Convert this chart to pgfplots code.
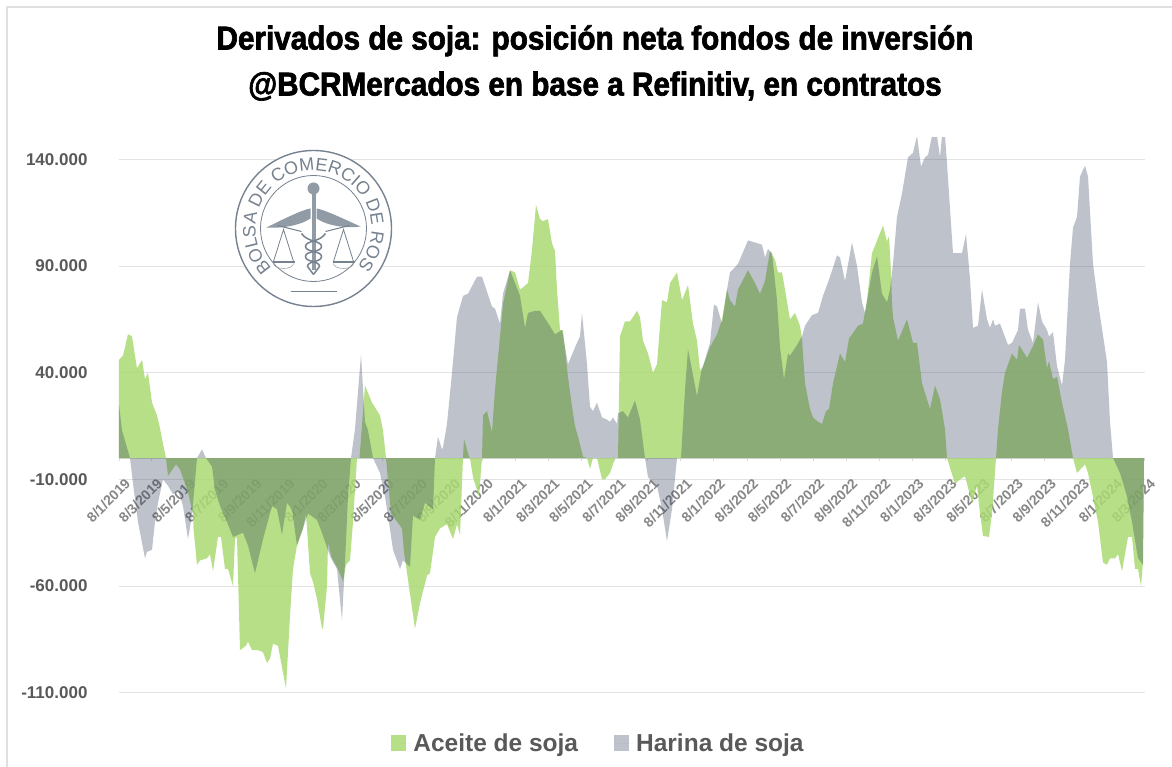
\documentclass[border=0pt]{standalone}
\usepackage{pgfplots}
\usepackage{fontspec}
\pgfplotsset{compat=1.18}
\usetikzlibrary{decorations.text}
\setmainfont{Liberation Sans}
\newfontfamily\titlefont[FakeStretch=0.9,FakeBold=2]{Liberation Sans Bold}
\definecolor{greenfill}{HTML}{AADA74}
\definecolor{grayfill}{HTML}{2A3752}
\definecolor{txt}{HTML}{595959}
\definecolor{logoc}{HTML}{76828F}
\pgfplotstableread{
px v
119 0
119 46000
123 48000
128 58000
132 57000
135 48000
137 42000
142 46000
145 37000
148 40000
152 26000
157 20000
160 14000
162 9000
166 0
168 -8400
176 -3000
180 -5300
188 -16000
193 -26000
193.5 -33000
197 -50000
200 -48000
207 -47000
210 -45000
213 -53000
218 -37000
221 -37000
225 -52000
228 -52000
233 -60000
235 -38000
237 -37000
240 -90000
246 -88000
248 -86000
252 -90000
258 -90000
263 -91000
267 -96000
270 -94000
273 -87000
278 -88000
286 -108000
290 -74000
293 -52000
297 -41000
303 -33000
306 -26000
310 -54000
313 -58000
317 -66000
322 -80000
323 -80000
327 -60000
328 -40000
332 -47000
338 -52000
343 -58000
346 -50000
350 -48000
353 -30000
357 0
359.5 0
365 34000
372 26000
380 20000
383 13000
386 0
391 -26000
402 -33000
404 -44000
415 -80000
420 -68000
427 -55000
430 -54000
435 -37000
440 -33000
447 -31000
453 -38000
457 -31000
460 -36000
463 0
464 9000
469 600
470 0
473 -9000
479 -18000
482 0
483 20000
487 22000
492 12000
495 32000
503 72000
510 88000
515 87000
520 79000
523 80000
528 82000
532 97500
536 118600
540 112000
543 111000
548 112000
552 100600
555 97000
557 79000
560 60000
563 60000
568 38000
572 24000
575 15000
578 10000
583 600
587 0
590 -5000
593 0
597 0
602 -10000
605 -10000
610 -7000
615 0
618 0
620 57000
625 64000
630 64000
637 69000
640 66000
643 55000
648 49000
653 40000
657 44000
662 74000
667 73000
670 82000
677 87000
682 74000
688 81000
693 63000
697 55000
700 41000
703 43000
710 52000
717 58000
722 65000
727 79000
730 74000
735 71000
738 79000
748 88000
755 82000
760 77000
765 83000
770 97000
775 93000
778 87000
782 87000
785 79000
790 65000
795 68000
800 62000
802 56000
805 35000
810 23000
813 19000
818 17000
822 16000
826 22000
829 23000
833 35000
840 49000
845 45000
849 56000
858 62000
863 63000
867 74000
872 96000
883 109000
887 101500
889 104000
891 87000
892 73000
893 66000
898 55000
907 65000
913 54000
917 54000
922 35000
930 23000
935 34000
940 27500
945 13500
947 0
955 -12000
960 -10000
965 -8500
972 -21000
977 -13000
980 -26000
983 -36500
989 -37000
992 -26000
996 0
998 13500
1002 31000
1005 40000
1012 49000
1017 46000
1019 53000
1027 47000
1033 52500
1038 58000
1043 55600
1047 42000
1049 45500
1053 37000
1057 38000
1062 26000
1068 13500
1073 0
1077 -7000
1085 -3000
1088 -7000
1092 -16000
1098 -30000
1103 -49000
1107 -50000
1110 -47000
1115 -47000
1118 -45000
1122 -53000
1128 -37000
1132 -37000
1135 -52000
1138 -52000
1141 -60000
1143 -49000
1144 0
}\aceite
\pgfplotstableread{
px v
119 0
119 25000
122 13000
130 0
133 -12000
138 -30000
145 -47000
147 -44000
152 -43000
155 -30000
158 -21000
163 -10000
168 -13000
173 -17000
178 -15000
183 -22500
188 -38000
192 -27000
197 0
202 4000
206 0
212 -4000
215 -15000
220 -22500
227 -30000
233 -37000
243 -35000
248 -41000
255 -54000
263 -38000
272 -22500
277 -24000
282 -36000
287 -21000
292 -24000
297 -41000
303 -33000
308 -26000
317 -29000
322 -35000
330 -46000
337 -52000
342 -76000
345 -49000
348 -18000
351 0
355 13600
361 48500
365 17000
368 13000
373 0
380 -7000
385 -18000
388 -27000
393 -43000
400 -52000
403 -48000
410 -51000
413 -27000
420 -29000
425 -21000
433 -24000
435 0
438 10000
442 4000
443 5000
447 16000
452 40000
457 66000
463 76000
468 77000
477 85000
482 85000
492 71000
495 70000
500 63000
503 77000
510 88000
520 76000
525 61000
528 68000
535 69000
540 69000
547 64000
555 58000
562 60000
568 44000
577 54000
580 57000
582 68000
587 44000
590 24000
593 22000
597 26000
602 19000
607 18000
610 17000
613 19000
617 16000
618 21000
623 22000
628 19000
635 27000
640 18000
645 0
648 -9000
657 -13000
662 -24000
667 -39000
672 -24000
677 0
681 0
685 32000
688 51000
697 29000
701 40000
703 43000
710 54000
714 72000
717 71000
722 63000
727 79000
730 87000
738 91000
748 102000
755 101000
762 100000
765 94000
768 98000
772 96000
777 74000
780 52000
784 37000
788 49000
790 48000
797 53000
802 57000
805 62000
812 67000
818 68000
823 76000
830 85000
837 95000
840 94000
845 83000
852 101000
857 90000
862 73000
865 68000
872 87000
877 94500
882 77000
887 73000
890 79000
893 91000
897 113000
902 124000
908 141000
913 143000
917 151000
921 136500
925 141000
928 142000
932 151000
937 151000
940 141000
942 151000
945 151000
947 138000
953 96000
962 96000
966 105000
970 84000
973 61000
978 62000
982 79000
987 65000
990 61000
993 65000
995 62000
1000 63000
1008 53000
1012 54000
1018 60000
1020 70000
1025 70000
1028 60000
1033 54000
1038 73000
1042 64000
1047 60000
1049 57000
1053 59000
1057 43000
1062 34000
1065 46000
1070 91000
1073 108000
1077 113000
1080 132000
1085 137000
1088 132000
1093 91000
1098 73000
1107 45000
1110 17000
1113 0
1120 -7000
1127 -18000
1132 -30000
1138 -47000
1143 -50000
1144 0
}\harina
\begin{document}
\begin{tikzpicture}[x=1pt,y=1pt]
\useasboundingbox (0,0) rectangle (1172,767);
\fill[white] (0,0) rectangle (1172,767);
\draw[black!12,line width=1.5pt] (7,0) -- (7,760) -- (1172,760);
\begin{axis}[
  at={(119pt,31.6pt)}, anchor=south west,
  scale only axis, width=1026pt, height=597.4pt,
  xmin=119, xmax=1145, ymin=-130000, ymax=150000,
  axis x line=middle, axis y line*=left,
  hide obscured x ticks=false, hide obscured y ticks=false,
  scaled y ticks=false,
  y axis line style={draw=none},
  x axis line style={draw=black!15,line width=1pt,-},
  xtick={119,151.1,184.2,217.3,250.4,283.5,316.6,349.7,382.8,415.9,449,482.1,515.2,548.3,581.4,614.5,647.6,680.7,713.8,746.9,780,813.1,846.2,879.3,912.4,945.5,978.6,1011.7,1044.8,1077.9,1111,1144.1},
  xticklabels={8/1/2019,8/3/2019,8/5/2019,8/7/2019,8/9/2019,8/11/2019,8/1/2020,8/3/2020,8/5/2020,8/7/2020,8/9/2020,8/11/2020,8/1/2021,8/3/2021,8/5/2021,8/7/2021,8/9/2021,8/11/2021,8/1/2022,8/3/2022,8/5/2022,8/7/2022,8/9/2022,8/11/2022,8/1/2023,8/3/2023,8/5/2023,8/7/2023,8/9/2023,8/11/2023,8/1/2024,8/3/2024},
  x tick label style={rotate=45,anchor=north east,font=\fontsize{14}{16}\selectfont\bfseries,text=txt,opacity=.72,inner sep=1pt,yshift=-14pt,xshift=-7pt},
  x tick style={draw=black!15,line width=.8pt},
  tick align=outside, major tick length=3pt,
  ytick={-110000,-60000,-10000,40000,90000,140000},
  yticklabels={-110.000,-60.000,-10.000,40.000,90.000,140.000},
  y tick label style={font=\fontsize{17}{20}\selectfont\bfseries,text=txt,anchor=east,xshift=-25pt},
  y tick style={draw=none},
  grid=none, ymajorgrids=true,
  major grid style={draw=black!11,line width=1pt},
  legend style={at={(479.5pt,-8pt)},anchor=center,draw=none,fill=none,
    legend columns=2,font=\fontsize{24.5}{28}\selectfont\bfseries,text=txt,
    /tikz/every even column/.append style={column sep=34pt}},
  legend image code/.code={\fill[#1] (0pt,-8pt) rectangle (15pt,8pt);\path (0pt,0pt) -- (20pt,0pt);},
  clip=true,
]
\addplot[fill=greenfill,draw=none,opacity=.85] table[x=px,y=v] {\aceite} --cycle;
\addlegendentry{Aceite de soja}
\addplot[fill=grayfill,draw=none,opacity=.3] table[x=px,y=v] {\harina} --cycle;
\addlegendentry{Harina de soja}
\end{axis}
% title
\node[font=\titlefont\fontsize{33}{40}\selectfont,align=center,text=black] at (595,704)
  {Derivados de soja: posición neta fondos de inversión\\[6pt]@BCRMercados en base a Refinitiv, en contratos};
% logo
\begin{scope}[shift={(313.5,538.5)}]
\fill[white] (0,0) circle (78.5);
\draw[logoc,line width=1.4pt] (0,0) circle (78);
\draw[logoc,line width=.8pt] (0,0) circle (53);
\path[decorate,decoration={text along path,
   text={|\fontsize{18}{20}\selectfont\color{logoc}|BOLSA DE COMERCIO DE ROSARIO},
   text align={fit to path}}]
   (-136:58) arc[start angle=224,end angle=-44,radius=58];
% wings
\fill[logoc!80] (-47,1) .. controls (-25,12) and (-10,19) .. (-3,20) -- (-3,10) .. controls (-15,2) and (-35,0) .. (-47,1);
\fill[logoc!80] (47,2) .. controls (25,12) and (10,19) .. (3,20) -- (3,10) .. controls (15,2) and (35,0) .. (47,2);
\fill[logoc!80] (0,40) circle (6);
\fill[logoc!80] (-2,-42) rectangle (2,34);
% snake
\draw[logoc,line width=1.5pt] (-12,-5) .. controls (-6,-14) and (8,-12) .. (8,-18) .. controls (8,-24) and (-8,-22) .. (-8,-28) .. controls (-8,-34) and (6,-32) .. (6,-38) -- (0,-46);
\draw[logoc,line width=1.5pt] (12,-5) .. controls (6,-14) and (-8,-12) .. (-8,-18) .. controls (-8,-24) and (8,-22) .. (8,-28) .. controls (8,-34) and (-6,-32) .. (-6,-38) -- (0,-46);
% scales
\draw[logoc,line width=1pt] (-36,3) -- (-12,-3) (36,3) -- (12,-3);
\draw[logoc,line width=.8pt] (-30,-1) -- (-40,-33) -- (-20,-33) -- cycle;
\draw[logoc,line width=.8pt] (30,-1) -- (20,-33) -- (40,-33) -- cycle;
\fill[logoc] (-41,-33) rectangle (-19,-35);
\fill[logoc] (19,-33) rectangle (41,-35);
\draw[logoc!70,line width=.6pt] (-40,-35) arc[start angle=180,end angle=360,x radius=10,y radius=5];
\draw[logoc!70,line width=.6pt] (20,-35) arc[start angle=180,end angle=360,x radius=10,y radius=5];
\draw[logoc,line width=.7pt] (-23,-63) -- (23,-63);
\end{scope}
\end{tikzpicture}
\end{document}
